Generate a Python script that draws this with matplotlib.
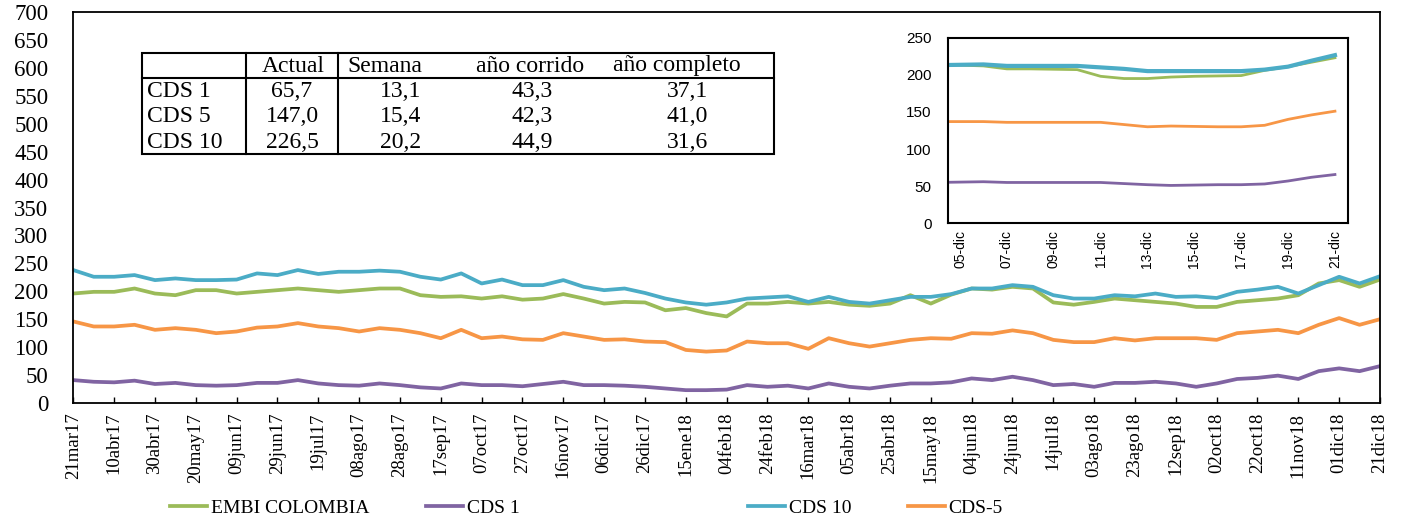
import matplotlib
matplotlib.use("Agg")
import matplotlib.pyplot as plt
import pandas as pd
from matplotlib.lines import Line2D
from matplotlib.patches import Rectangle

W, H = 1407, 522

# serie principal, un punto cada 10 dias desde 21mar17
fecha_inicio = "2017-03-21"
fecha_fin = "2018-12-21"
embi = [196, 199, 199, 205, 196, 193, 202, 202, 196, 199, 202, 205, 202, 199, 202, 205,
        205, 193, 190, 191, 187, 191, 185, 187, 195, 187, 178, 181, 180, 166, 170, 161,
        155, 178, 178, 181, 178, 181, 176, 174, 178, 193, 178, 194, 205, 203, 208, 205,
        180, 176, 181, 187, 184, 181, 178, 172, 172, 181, 184, 187, 193, 214, 220, 208, 221]
cds1 = [41, 38, 37, 40, 34, 36, 32, 31, 32, 36, 36, 41, 35, 32, 31, 35,
        32, 28, 26, 35, 32, 32, 30, 34, 38, 32, 32, 31, 29, 26, 23, 23,
        24, 32, 29, 31, 26, 35, 29, 26, 31, 35, 35, 37, 44, 41, 47, 41,
        32, 34, 29, 36, 36, 38, 35, 29, 35, 43, 45, 49, 43, 57, 62, 57, 66]
cds10 = [238, 226, 226, 229, 220, 223, 220, 220, 221, 232, 229, 238, 231, 235, 235, 237,
         235, 226, 221, 232, 214, 221, 211, 211, 220, 208, 202, 205, 197, 187, 180, 176,
         180, 187, 189, 191, 181, 190, 181, 178, 184, 190, 190, 195, 205, 205, 211, 208,
         193, 187, 187, 193, 191, 196, 190, 191, 188, 199, 203, 208, 196, 211, 226, 214, 227]
cds5 = [146, 137, 137, 140, 131, 134, 131, 125, 128, 135, 137, 143, 137, 134, 128, 134,
        131, 125, 116, 131, 116, 119, 114, 113, 125, 119, 113, 114, 110, 109, 95, 92,
        94, 110, 107, 107, 97, 116, 107, 101, 107, 113, 116, 115, 125, 124, 130, 125,
        113, 109, 109, 116, 112, 116, 116, 116, 113, 125, 128, 131, 125, 140, 152, 140, 150]

meses = ["ene", "feb", "mar", "abr", "may", "jun", "jul", "ago", "sep", "oct", "nov", "dic"]

# recuadro de diciembre
dias_zoom = list(range(4, 22))
zoom_embi = [213, 213, 212, 208, 208, 207.5, 207, 198, 195, 195, 197, 198, 198.5, 199, 206, 211, 217, 223]
zoom_cds1 = [55, 55.5, 56, 55, 55, 55, 55, 55, 53.5, 52, 51, 51.5, 52, 52, 53, 57, 62, 65.7]
zoom_cds10 = [213, 213.5, 214, 212, 212, 212, 212, 210, 208, 205, 205, 205, 205, 205, 207, 211, 219, 226.5]
zoom_cds5 = [137, 137, 137, 136, 136, 136, 136, 136, 133, 130, 131, 130.5, 130, 130, 132, 140, 146, 151]

# tabla
tabla_cols = ["Actual", "Semana", "año corrido", "año completo"]
tabla_filas = ["CDS 1", "CDS 5", "CDS 10"]
tabla_vals = [["65,7", "13,1", "43,3", "37,1"],
              ["147,0", "15,4", "42,3", "41,0"],
              ["226,5", "20,2", "44,9", "31,6"]]

c_embi, c_cds1, c_cds10, c_cds5 = "#9BBB59", "#8064A2", "#4BACC6", "#F79646"
serif = "Liberation Serif"
sans = "Liberation Sans"


def fx(px):
    return px / W


def fy(py):
    return 1 - py / H


fig = plt.figure(figsize=(W / 100, H / 100), dpi=100)

ax = fig.add_axes([fx(73.3), fy(403), fx(1380 - 73.3), (403 - 12) / H])
fechas = pd.date_range(fecha_inicio, periods=len(embi), freq="10D")
lw = 2.7
ax.plot(fechas, embi, color=c_embi, lw=lw, label="EMBI COLOMBIA")
ax.plot(fechas, cds1, color=c_cds1, lw=lw, label="CDS 1")
ax.plot(fechas, cds10, color=c_cds10, lw=lw, label="CDS 10")
ax.plot(fechas, cds5, color=c_cds5, lw=lw, label="CDS-5")

ax.set_xlim(pd.Timestamp(fecha_inicio), pd.Timestamp(fecha_fin))
ax.set_ylim(0, 700)
ax.set_yticks(range(0, 701, 50))
ticks = pd.date_range(fecha_inicio, fecha_fin, freq="20D")
ax.set_xticks(ticks)
ax.set_xticklabels([f"{t.day:02d}{meses[t.month - 1]}{t.year % 100:02d}" for t in ticks],
                   rotation=90, fontsize=13.5, family=serif, va="top", ha="center")
for lab in ax.get_yticklabels():
    lab.set_family(serif)
    lab.set_fontsize(16.5)
ax.tick_params(axis="y", length=0, pad=18)
ax.tick_params(axis="x", direction="in", length=4.5, width=1, pad=7)
for s in ax.spines.values():
    s.set_linewidth(1.3)
    s.set_color("black")

# tabla dibujada a mano
tx0, tx1, ty0, ty1 = 142, 774, 53, 154
fig.patches.append(Rectangle((fx(tx0), fy(ty1)), fx(tx1 - tx0), (ty1 - ty0) / H,
                             transform=fig.transFigure, fill=False, lw=1.5, ec="black"))
fig.lines.append(Line2D([fx(tx0), fx(tx1)], [fy(78), fy(78)], transform=fig.transFigure, lw=1.5, color="black"))
for vx in (246, 338):
    fig.lines.append(Line2D([fx(vx), fx(vx)], [fy(ty0), fy(ty1)], transform=fig.transFigure, lw=1.5, color="black"))

col_x = [293, 385, 530, 677]
val_x = [292, 401, 532, 687]
fila_y = [92, 117, 142]
fs_tabla = 17
for c, x in zip(tabla_cols, col_x):
    fig.text(fx(x), fy(66), c, ha="center", va="center", family=serif, fontsize=fs_tabla)
for i, nombre in enumerate(tabla_filas):
    fig.text(fx(147), fy(fila_y[i]), nombre, ha="left", va="center", family=serif, fontsize=fs_tabla)
    for v, x in zip(tabla_vals[i], val_x):
        fig.text(fx(x), fy(fila_y[i]), v, ha="center", va="center", family=serif, fontsize=fs_tabla)

# recuadro
ins = fig.add_axes([fx(948.3), fy(223.3), fx(1348.3 - 948.3), (223.3 - 37.7) / H])
ins.plot(dias_zoom, zoom_embi, color=c_embi, lw=2)
ins.plot(dias_zoom, zoom_cds1, color=c_cds1, lw=2)
ins.plot(dias_zoom, zoom_cds10, color=c_cds10, lw=3)
ins.plot(dias_zoom, zoom_cds5, color=c_cds5, lw=2)
ins.set_xlim(4.5, 21.57)
ins.set_ylim(0, 250)
ins.set_yticks(range(0, 251, 50))
ins.set_xticks(range(5, 22, 2))
ins.set_xticklabels([f"{d:02d}-dic" for d in range(5, 22, 2)], rotation=90,
                    family=sans, fontsize=10, va="top", ha="center")
for lab in ins.get_yticklabels():
    lab.set_family(sans)
    lab.set_fontsize(11)
ins.tick_params(axis="both", length=0)
ins.tick_params(axis="y", pad=12)
ins.tick_params(axis="x", pad=5)
for s in ins.spines.values():
    s.set_linewidth(1.5)

# leyenda
h, l = ax.get_legend_handles_labels()
kw = dict(ncol=2, frameon=False, loc="center left", borderpad=0, borderaxespad=0,
          handlelength=1.9, handletextpad=0.2, columnspacing=2.9,
          prop={"family": serif, "size": 14})
leg1 = fig.legend(h[:2], l[:2], bbox_to_anchor=(fx(170), fy(508)), **kw)
leg2 = fig.legend(h[2:], l[2:], bbox_to_anchor=(fx(748), fy(508)), **kw)

fig.savefig("out.png", dpi=100)
